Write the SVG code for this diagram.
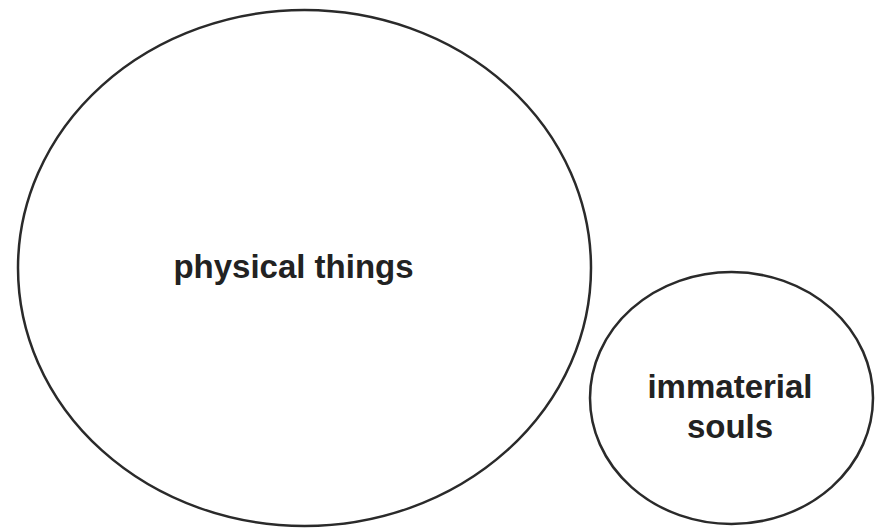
<svg xmlns="http://www.w3.org/2000/svg" width="882" height="531" viewBox="0 0 882 531">
<style>
.set{fill:none;stroke:#2a2a2a;stroke-width:2.5}
.lbl{font-family:"Liberation Sans",Arial,sans-serif;font-weight:bold;font-size:33px;fill:#222;text-anchor:middle}
</style>
<rect width="882" height="531" fill="#fff"/>
<g id="physical-things">
<ellipse class="set" cx="304.5" cy="268" rx="286.5" ry="258"/>
<text class="lbl" x="293.5" y="278">physical things</text>
</g>
<g id="immaterial-souls">
<ellipse class="set" cx="731.5" cy="398" rx="141.5" ry="126"/>
<text class="lbl" x="730" y="398">immaterial</text>
<text class="lbl" x="730" y="438">souls</text>
</g>
<g id="connectors"/>
</svg>
